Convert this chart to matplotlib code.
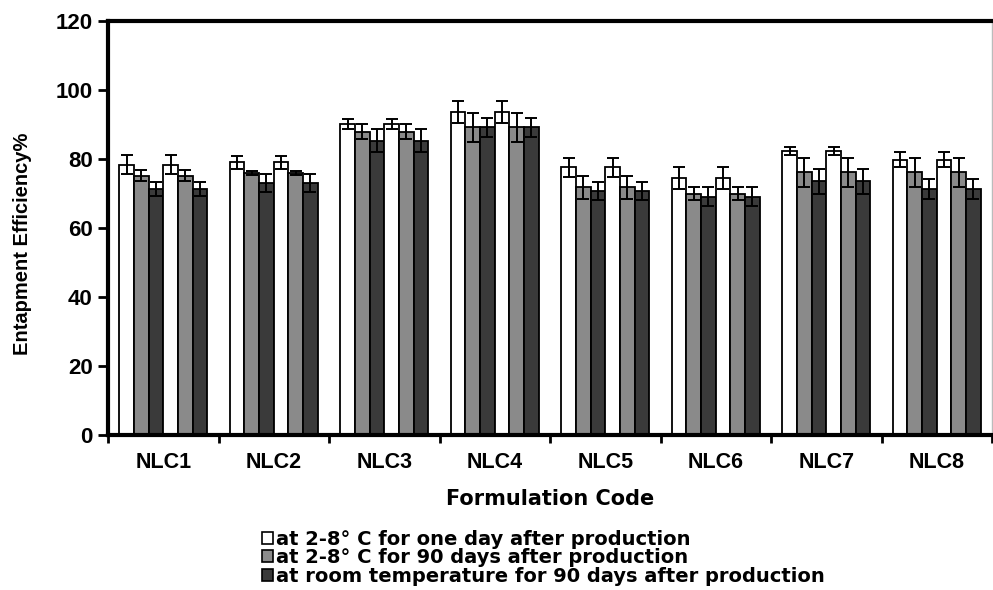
import matplotlib
matplotlib.use("Agg")
import matplotlib.pyplot as plt
import numpy as np
from matplotlib.patches import Patch

plt.rcParams['font.family'] = ['Liberation Sans', 'DejaVu Sans']
plt.rcParams['font.weight'] = 'bold'

codes = ["NLC1", "NLC2", "NLC3", "NLC4", "NLC5", "NLC6", "NLC7", "NLC8"]
series_labels = [
    "at 2-8° C for one day after production",
    "at 2-8° C for 90 days after production",
    "at room temperature for 90 days after production",
]
day1 = [78.4, 79.0, 90.1, 93.5, 77.6, 74.5, 82.4, 79.8]
day1_err = [2.7, 2.0, 1.4, 3.2, 2.7, 3.3, 1.2, 2.1]
cold90 = [75.2, 75.9, 87.9, 89.2, 71.8, 69.9, 76.1, 76.1]
cold90_err = [1.5, 0.6, 2.2, 4.2, 3.4, 1.9, 4.2, 4.2]
room90 = [71.3, 73.0, 85.3, 89.2, 70.7, 69.1, 73.5, 71.3]
room90_err = [2.0, 2.7, 3.4, 2.8, 2.6, 2.7, 3.6, 2.9]

colors = ["white", "#8a8a8a", "#3a3a3a"]
series = [(day1, day1_err), (cold90, cold90_err), (room90, room90_err)]

fig = plt.figure(figsize=(9.93, 5.9), dpi=100)
ax = fig.add_axes([108 / 993, 1 - 435 / 590, 884 / 993, 414 / 590])

x = np.arange(len(codes))
w = 0.133
# each group shows the three conditions twice
for rep in range(2):
    for k, ((vals, errs), c) in enumerate(zip(series, colors)):
        pos = x + (rep * 3 + k - 2.5) * w
        ax.bar(pos, vals, w, color=c, edgecolor="black", linewidth=1.3,
               label=series_labels[k] if rep == 0 else None, zorder=2)
        ax.errorbar(pos, vals, yerr=errs, fmt="none", ecolor="black",
                    elinewidth=1.4, capsize=4.5, capthick=1.4, zorder=3)

ax.set_xlim(-0.5, len(codes) - 0.5)
ax.set_ylim(0, 120)
ax.set_yticks(np.arange(0, 121, 20))
ax.set_xticks(x)
ax.set_xticklabels(codes, fontsize=15.5, fontweight="bold")
ax.set_xticks(np.arange(-0.5, len(codes), 1), minor=True)
ax.tick_params(axis="x", which="major", length=0, pad=12)
ax.tick_params(axis="x", which="minor", length=6, width=2, direction="out")
ax.tick_params(axis="y", length=7, width=2, direction="out", labelsize=16, pad=4)
for lab in ax.get_yticklabels():
    lab.set_fontweight("bold")

for side in ["left", "bottom", "top"]:
    ax.spines[side].set_linewidth(3)
ax.spines["right"].set_linewidth(1)
ax.spines["right"].set_color("#bbbbbb")

ax.set_ylabel("Entapment Efficiency%", fontsize=14.5, fontweight="bold")
ax.yaxis.set_label_coords(-0.086, 0.461)
ax.set_xlabel("Formulation Code", fontsize=15, fontweight="bold",
              family="DejaVu Sans")
ax.xaxis.set_label_coords(0.5, -0.13)

handles = [Patch(facecolor=c, edgecolor="black", linewidth=1.2) for c in colors]
fig.legend(handles, series_labels, loc="upper left",
           bbox_to_anchor=(252 / 993, 1 - 520 / 590), frameon=False,
           handlelength=0.6, handleheight=0.6, handletextpad=0.15,
           labelspacing=-0.03, borderpad=0,
           prop={"size": 14, "weight": "bold", "family": "DejaVu Sans"})

fig.savefig("out.png", dpi=100)
